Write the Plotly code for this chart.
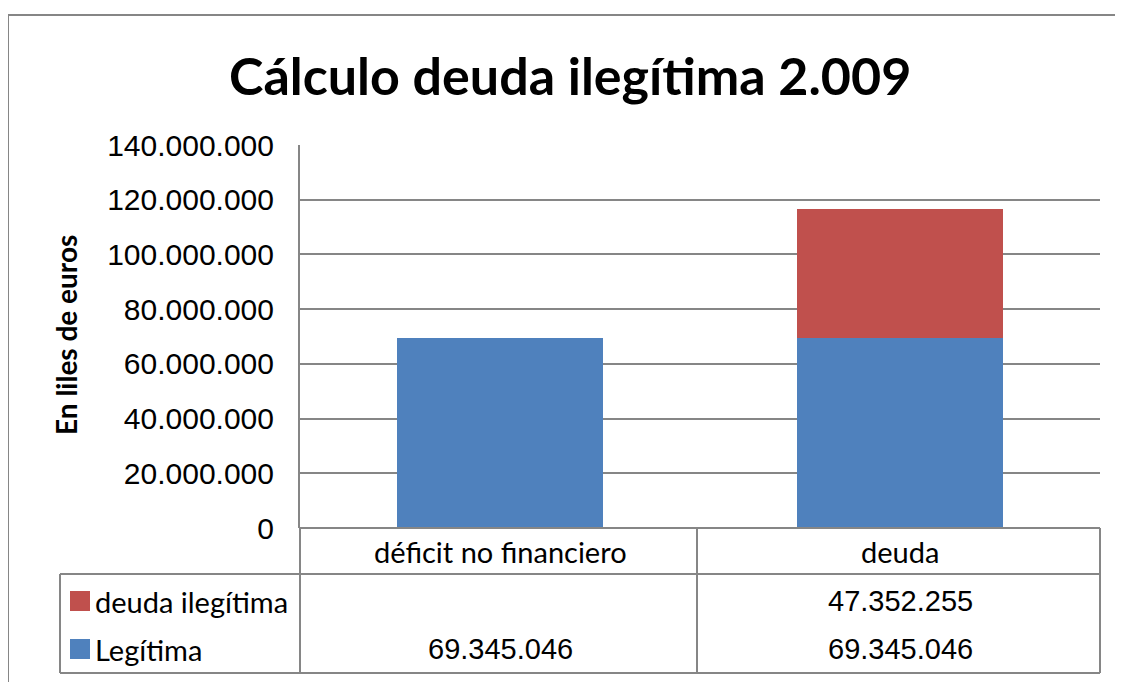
import plotly.graph_objects as go

# data
categories = ["déficit no financiero", "deuda"]
legitima = [69345046, 69345046]
ilegitima = [None, 47352255]
row_names = ["deuda ilegítima", "Legítima"]
y_ticks = [0, 20000000, 40000000, 60000000, 80000000, 100000000, 120000000, 140000000]

BLUE = "#4F81BD"
RED = "#C0504D"
GRID = "#868686"

W, H = 1123, 682
OFF = 8  # page body margin
# plot area in screen pixels
L, R, T, B = 300, 1100, 145, 528


def px(x):
    # screen x -> paper x
    return (x - L) / (R - L)


def py(y):
    # screen y -> paper y
    return (B - y) / (B - T)


def fmt(v):
    return f"{v:,}".replace(",", ".")


fig = go.Figure()
fig.add_trace(go.Bar(x=categories, y=legitima, name=row_names[1],
                     marker=dict(color=BLUE, line=dict(width=0))))
fig.add_trace(go.Bar(x=categories, y=ilegitima, name=row_names[0],
                     marker=dict(color=RED, line=dict(width=0))))

line = dict(color=GRID, width=2)
shapes = []


def hline(x0, x1, y):
    shapes.append(dict(type="line", xref="paper", yref="paper",
                       x0=px(x0), x1=px(x1), y0=py(y), y1=py(y), line=line))


def vline(x, y0, y1):
    shapes.append(dict(type="line", xref="paper", yref="paper",
                       x0=px(x), x1=px(x), y0=py(y0), y1=py(y1), line=line))


# outer chart frame
hline(8, 1130, 15)
vline(8, 15, 690)

# data table grid
hline(300, 1100, 528)
hline(60, 1100, 574)
hline(60, 1100, 673)
vline(60, 574, 673)
vline(300, 528, 673)
vline(697, 528, 673)
vline(1100, 528, 673)

row_y = [601, 649]
row_colors = [RED, BLUE]
for yy, c in zip(row_y, row_colors):
    shapes.append(dict(type="rect", xref="paper", yref="paper",
                       x0=px(70), x1=px(90), y0=py(yy + 10), y1=py(yy - 10),
                       fillcolor=c, line=dict(width=0)))

annotations = []
table_font = dict(family="Liberation Sans", size=29, color="black")
label_font = dict(family="Lato", size=29, color="black")


def note(x, y, text, font, xref="paper", xanchor="center", **kw):
    annotations.append(dict(x=x, xref=xref, y=py(y), yref="paper", text=text,
                            showarrow=False, xanchor=xanchor, yanchor="middle",
                            font=font, **kw))


for cat in categories:
    note(cat, 551, cat, label_font, xref="x")

for name, yy in zip(row_names, row_y):
    note(px(93), yy, name, label_font, xanchor="left")

for cat, v in zip(categories, ilegitima):
    if v is not None:
        note(cat, row_y[0], fmt(v), table_font, xref="x")
for cat, v in zip(categories, legitima):
    note(cat, row_y[1], fmt(v), table_font, xref="x")

# title and y-axis title
note(px(570), 75, "<b>Cálculo deuda ilegítima 2.009</b>",
     dict(family="Lato", size=52, color="black"))
note(px(66), 335, "<b>En liles de euros</b>",
     dict(family="Lato", size=28, color="black"), textangle=-90)

fig.update_layout(
    width=W - OFF, height=H - OFF,
    margin=dict(l=L - OFF, r=W - R, t=T - OFF, b=H - B),
    paper_bgcolor="white", plot_bgcolor="white",
    barmode="stack", bargap=0.485,
    showlegend=False,
    separators=",.",
    shapes=shapes,
    annotations=annotations,
    xaxis=dict(showticklabels=False, showgrid=False, zeroline=False,
               showline=False, ticks=""),
    yaxis=dict(range=[0, 140000000], tickvals=y_ticks, tickformat=",d",
               showgrid=True, gridcolor=GRID, gridwidth=2,
               zeroline=True, zerolinecolor=GRID, zerolinewidth=2,
               showline=True, linecolor=GRID, linewidth=2,
               ticks="", ticklabelstandoff=18,
               tickfont=dict(family="Liberation Sans", size=30, color="black")),
)

fig.write_html("out.html")
